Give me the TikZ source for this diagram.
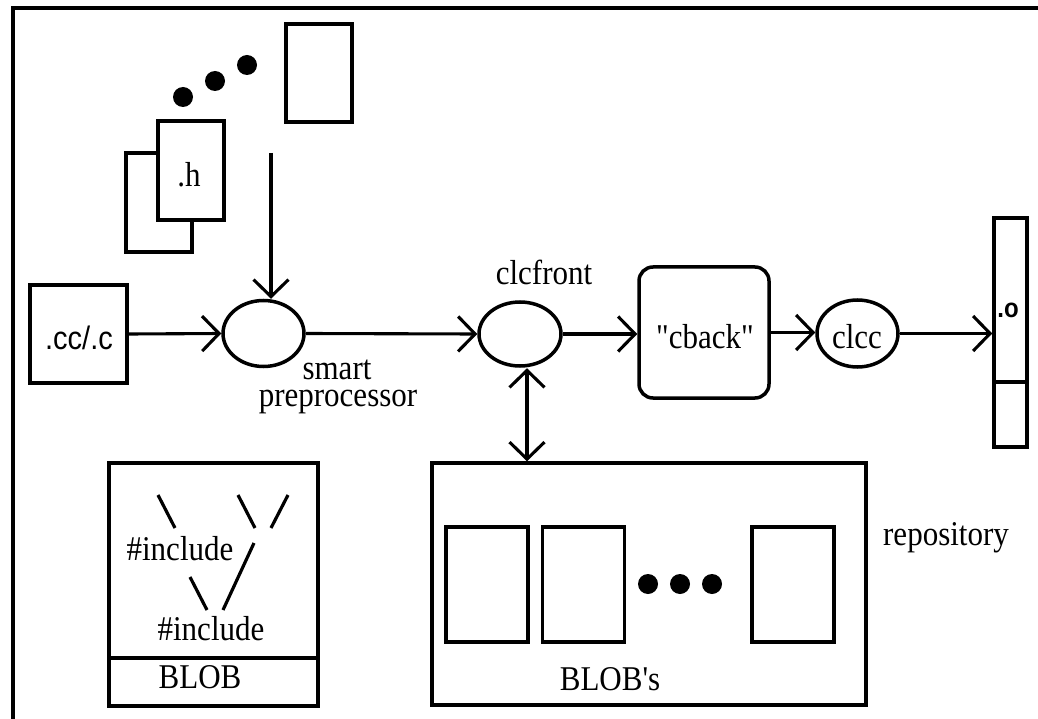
\documentclass[tikz,border=0pt]{standalone}
\usepackage{fontspec}
\setmainfont{Liberation Serif}[Ligatures=TeXOff]
\newfontfamily\sansfam{Liberation Sans}[Ligatures=TeXOff]
\usetikzlibrary{arrows.meta,shapes.geometric}
\newcommand{\tallt}[1]{\scalebox{1}[1.12]{#1}}

\begin{document}
\begin{tikzpicture}[x=1pt,y=-1pt,
  outline/.style={draw,line width=3.5pt},
  filebox/.style={outline,rectangle,inner sep=0pt},
  proc/.style={outline,ellipse,inner sep=0pt},
  lbl/.style={inner sep=0pt,anchor=base,font=\fontsize{31}{36}\selectfont},
  sanslbl/.style={inner sep=0pt,anchor=base,font=\sansfam\fontsize{29}{34}\selectfont},
  barb/.tip={Straight Barb[length=17pt,width=35pt]},
  flow/.style={line width=3.1pt,-barb},
  twoway/.style={line width=3.1pt,barb-barb},
  stroke/.style={line width=3.2pt},
  blobdot/.style={circle,fill,inner sep=0pt,minimum size=20pt},
]
\useasboundingbox (0,0) rectangle (1038,719);

% frame
\draw[line width=4pt] (13,730) -- (13,8) -- (1045,8);

% header files
\node[filebox,minimum width=66pt,minimum height=98pt] (hlast) at (319,73) {};
\node[blobdot] (hd1) at (183,97) {};
\node[blobdot] (hd2) at (215,81) {};
\node[blobdot] (hd3) at (247,65) {};
\node[filebox,fill=white,minimum width=66pt,minimum height=99pt] (hback) at (159,202.5) {};
\node[filebox,fill=white,minimum width=66pt,minimum height=99pt] (hfront) at (191,170.5) {};
\node[lbl] (htext) at (189,187) {\tallt{.h}};

% source file
\node[filebox,minimum width=97pt,minimum height=98pt] (src) at (78.5,334) {};
\node[sanslbl] (srctext) at (79,349) {\tallt{.cc/.c}};

% processing chain
\node[proc,minimum width=81pt,minimum height=66pt] (pre) at (263.5,333.5) {};
\node[lbl] (pretext1) at (337,379) {\tallt{smart}};
\node[lbl] (pretext2) at (338,406) {\tallt{preprocessor}};

\node[proc,minimum width=82pt,minimum height=64pt] (front) at (520,334) {};
\node[lbl] (fronttext) at (544,284) {\tallt{clcfront}};

\node[filebox,rounded corners=14pt,minimum width=130pt,minimum height=131pt] (cback) at (704,332.5) {};
\node[lbl] (cbacktext) at (705,348) {\tallt{"cback"}};

\node[proc,minimum width=81pt,minimum height=67pt] (clcc) at (857.5,333.5) {};
\node[lbl] (clcctext) at (857,348) {\tallt{clcc}};

% object file
\node[filebox,minimum width=33pt,minimum height=229pt] (obj) at (1010.5,332.5) {};
\draw[outline] (obj.west |- 0,382) -- (obj.east |- 0,382);
\node[sanslbl,font=\sansfam\bfseries\fontsize{24}{30}\selectfont] (objtext) at (1008,317) {\tallt{.o}};

% connectors
\coordinate (hin) at (271,153);
\draw[flow] (hin) -- (hin |- pre.north);
\draw[flow] (src.east) -- (pre.west);
\draw[flow] (pre.east) -- (front.west);
\draw[flow] (front.east) -- (front.east -| cback.west);
\draw[flow] (cback.east) -- (cback.east -| clcc.west);
\draw[flow] (clcc.east) -- (clcc.east -| obj.west);

% repository
\node[filebox,minimum width=434pt,minimum height=242pt] (repo) at (649,584) {};
\node[filebox,minimum width=82pt,minimum height=115pt] (blob1) at (487,584.5) {};
\node[filebox,minimum width=82pt,minimum height=115pt] (blob2) at (583.5,584.5) {};
\node[filebox,minimum width=82pt,minimum height=115pt] (blob3) at (793,584.5) {};
\node[blobdot] (rd1) at (648,584) {};
\node[blobdot] (rd2) at (680,584) {};
\node[blobdot] (rd3) at (712,584) {};
\node[lbl] (repotext) at (610,690) {\tallt{BLOB's}};
\node[lbl] (reponame) at (946,545) {\tallt{repository}};
\draw[twoway] ([xshift=7pt,yshift=-0.5pt]front.south) -- ([xshift=7pt]front.south |- repo.north);

% a single BLOB
\node[filebox,minimum width=209pt,minimum height=243pt] (blob) at (213.5,584.5) {};
\draw[outline] (blob.west |- 0,658) -- (blob.east |- 0,658);
\node[lbl] (inc1) at (180,560) {\tallt{\#include}};
\node[lbl] (inc2) at (211,640) {\tallt{\#include}};
\node[lbl] (blobname) at (200,688) {\tallt{BLOB}};
\draw[stroke] (158,495) -- (175,528);
\draw[stroke] (238,495) -- (255,528);
\draw[stroke] (288,495) -- (271,528);
\draw[stroke] (254,543) -- (223,610);
\draw[stroke] (190,577) -- (207,610);
\end{tikzpicture}
\end{document}
